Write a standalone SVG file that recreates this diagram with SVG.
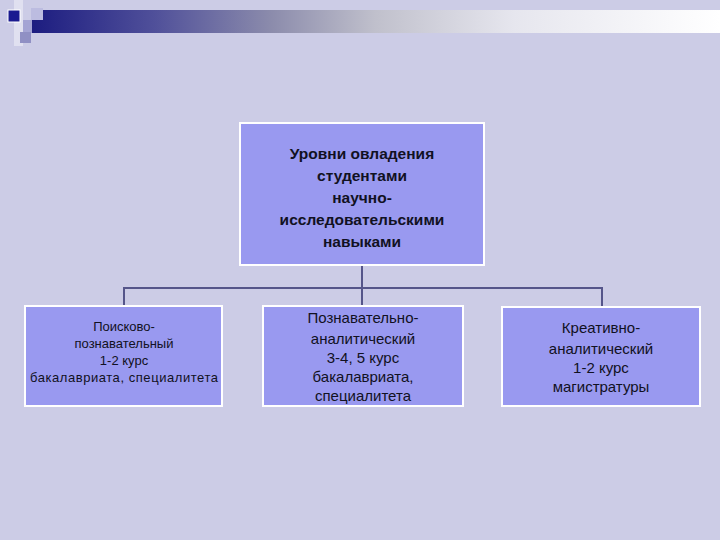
<svg xmlns="http://www.w3.org/2000/svg" width="720" height="540" viewBox="0 0 720 540">
<defs>
<linearGradient id="bar" x1="0" y1="0" x2="1" y2="0">
<stop offset="0" stop-color="#1c1c80"/>
<stop offset="0.18" stop-color="#50509a"/>
<stop offset="0.35" stop-color="#8c8cac"/>
<stop offset="0.5" stop-color="#c0c0cc"/>
<stop offset="0.7" stop-color="#e6e6ee"/>
<stop offset="1" stop-color="#ffffff"/>
</linearGradient>
<style>
.box{fill:#9999f0;stroke:#ffffff;stroke-width:2}
.t{font-family:"Liberation Sans",Arial,sans-serif;text-anchor:middle;fill:#111122}
.b{font-weight:bold;font-size:15.5px}
.s{font-size:13px}
.m{font-size:15px}
.c{fill:none;stroke:#55558a;stroke-width:2}
</style>
</defs>
<rect width="720" height="540" fill="#ccccE6"/>
<g id="decor">
<rect x="14" y="0" width="9" height="46" fill="#e0e0f0"/>
<rect x="31" y="10" width="689" height="23" fill="url(#bar)"/>
<rect x="8" y="10" width="12" height="12" fill="#1a1a90" stroke="#ffffff" stroke-width="1"/>
<rect x="31" y="8" width="12" height="12" fill="#bcbce0"/>
<rect x="23" y="20" width="9" height="13" fill="#a4a4d4"/>
<rect x="20" y="32" width="11" height="11" fill="#9090c4"/>
</g>
<g id="connectors">
<path class="c" d="M362 265V288M124 288H602M124 287V307M362 287V307M602 287V307"/>
</g>
<g id="root">
<rect class="box" x="240" y="123" width="244" height="142"/>
<text class="t b" x="362" y="159">Уровни овладения</text>
<text class="t b" x="362" y="181">студентами</text>
<text class="t b" x="362" y="203">научно-</text>
<text class="t b" x="362" y="225">исследовательскими</text>
<text class="t b" x="362" y="247">навыками</text>
</g>
<g id="n1">
<rect class="box" x="25" y="306" width="197" height="100"/>
<text class="t s" x="124" y="331">Поисково-</text>
<text class="t s" x="124" y="348">познавательный</text>
<text class="t s" x="124" y="365">1-2 курс</text>
<text class="t s" x="124" y="382" textLength="188" lengthAdjust="spacing">бакалавриата, специалитета</text>
</g>
<g id="n2">
<rect class="box" x="263" y="306" width="200" height="100"/>
<text class="t m" x="363" y="323">Познавательно-</text>
<text class="t m" x="363" y="344">аналитический</text>
<text class="t m" x="363" y="363">3-4, 5 курс</text>
<text class="t m" x="363" y="382">бакалавриата,</text>
<text class="t m" x="363" y="401">специалитета</text>
</g>
<g id="n3">
<rect class="box" x="502" y="307" width="198" height="99"/>
<text class="t m" x="601" y="333">Креативно-</text>
<text class="t m" x="601" y="354">аналитический</text>
<text class="t m" x="601" y="373">1-2 курс</text>
<text class="t m" x="601" y="392">магистратуры</text>
</g>
</svg>
